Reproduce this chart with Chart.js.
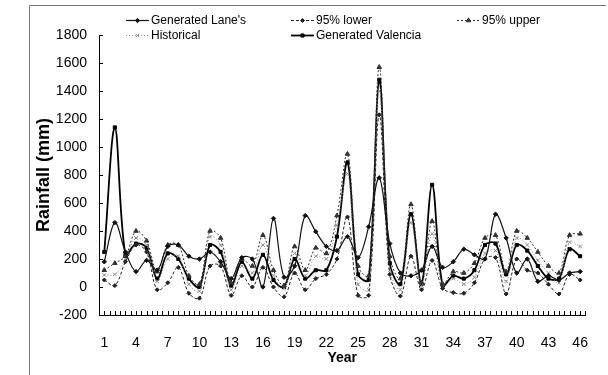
<!DOCTYPE html>
<html><head><meta charset="utf-8">
<script src="https://cdn.jsdelivr.net/npm/chart.js@4/dist/chart.umd.min.js"></script>
<style>html,body{margin:0;padding:0;background:#fff;}</style>
</head><body>
<canvas id="c" width="608" height="375" style="width:608px;height:375px;display:block"></canvas>
<script>
const years = ["1","2","3","4","5","6","7","8","9","10","11","12","13","14","15","16","17","18","19","20","21","22","23","24","25","26","27","28","29","30","31","32","33","34","35","36","37","38","39","40","41","42","43","44","45","46"];
const shownYearLabels = ["1","4","7","10","13","16","19","22","25","28","31","34","37","40","43","46"];
const yTickValues = [-200,0,200,400,600,800,1000,1200,1400,1600,1800];

const lanes     = [180,460,250,110,190,120,290,300,220,200,250,180,60,210,200,0,490,70,150,510,395,290,260,360,210,430,780,310,100,80,120,290,140,180,270,230,200,520,350,100,200,40,80,50,100,110];
const lower95   = [50,10,180,300,250,-20,30,140,-45,-80,150,150,-60,80,0,140,0,-70,100,-20,60,90,200,500,-60,-60,1230,90,-65,220,-20,190,-10,-40,-45,30,200,210,-50,200,120,100,20,-50,90,50];
const upper95   = [120,170,220,400,330,110,300,300,80,20,400,350,30,200,150,370,120,10,290,120,280,240,510,950,150,80,1570,220,60,590,30,470,20,110,100,170,350,370,110,400,350,250,150,100,370,380];
const historical= [86,90,200,350,300,40,200,220,20,-30,360,300,-20,150,100,300,80,-10,240,80,220,200,440,810,20,-20,1400,120,-20,460,10,380,0,60,20,70,240,260,40,350,300,190,100,30,320,290];
const valencia  = [250,1140,230,310,280,60,240,200,60,0,300,250,10,180,60,230,50,0,200,60,120,120,360,890,90,50,1480,170,20,520,20,730,10,80,60,120,300,310,90,300,260,150,60,60,270,220];

const FONT = '"Liberation Sans", Arial, sans-serif';

const datasets = [
  {label:"Generated Lane's", data:lanes, borderColor:'#111', backgroundColor:'#111', borderWidth:1.2, pointStyle:'rectRot', pointRadius:2.2},
  {label:"95% lower", data:lower95, borderColor:'#222', backgroundColor:'#222', borderWidth:1, borderDash:[3,2], pointStyle:'rectRot', pointRadius:2},
  {label:"95% upper", data:upper95, borderColor:'#333', backgroundColor:'#333', borderWidth:1, borderDash:[2,2], pointStyle:'triangle', pointRadius:2.6},
  {label:"Historical", data:historical, borderColor:'#8a8a8a', backgroundColor:'#8a8a8a', borderWidth:1, borderDash:[1,2], pointStyle:'crossRot', pointRadius:2.5},
  {label:"Generated Valencia", data:valencia, borderColor:'#000', backgroundColor:'#000', borderWidth:1.8, pointStyle:'rect', pointRadius:2.2}
];
datasets.forEach(d=>{ d.tension=0.35; d.fill=false; d.pointBorderWidth=1; d.pointHoverRadius=d.pointRadius; });

const legendSlots = [[126,20],[291,20],[457,20],[126,35],[291,35]];

const framePlugin = {
  id:'frame',
  beforeDraw(chart){
    const ctx=chart.ctx;
    ctx.save();
    ctx.fillStyle='#fff'; ctx.fillRect(0,0,chart.width,chart.height);
    ctx.strokeStyle='#777'; ctx.lineWidth=1;
    ctx.beginPath(); ctx.moveTo(29.5,375); ctx.lineTo(29.5,5.5); ctx.lineTo(606,5.5); ctx.stroke();
    ctx.restore();
  },
  afterDraw(chart){
    const ctx=chart.ctx, ca=chart.chartArea;
    const xs=chart.scales.x, ys=chart.scales.y;
    ctx.save();
    ctx.strokeStyle='#000'; ctx.lineWidth=1;
    ctx.beginPath();
    yTickValues.forEach(v=>{ const y=Math.round(ys.getPixelForValue(v))+0.5; ctx.moveTo(ca.left,y); ctx.lineTo(ca.left+4,y); });
    const w = xs.getPixelForValue(1)-xs.getPixelForValue(0);
    for(let i=0;i<years.length;i++){
      const c=xs.getPixelForValue(i);
      [c-w/2, c].forEach(px=>{ const x=Math.round(px)+0.5; ctx.moveTo(x,ca.bottom); ctx.lineTo(x,ca.bottom-4); });
    }
    const xe=Math.round(xs.getPixelForValue(years.length-1)+w/2)+0.5; ctx.moveTo(xe,ca.bottom); ctx.lineTo(xe,ca.bottom-4);
    ctx.stroke();
    chart.data.datasets.forEach((ds,i)=>{
      const [lx,ly]=legendSlots[i];
      ctx.save();
      ctx.strokeStyle=ds.borderColor; ctx.lineWidth=ds.borderWidth;
      ctx.setLineDash(ds.borderDash||[]);
      ctx.beginPath(); ctx.moveTo(lx,ly+0.5); ctx.lineTo(lx+23,ly+0.5); ctx.stroke();
      ctx.setLineDash([]);
      ctx.fillStyle=ds.backgroundColor; ctx.strokeStyle=ds.borderColor; ctx.lineWidth=1;
      Chart.helpers.drawPoint(ctx,{pointStyle:ds.pointStyle,radius:ds.pointRadius,borderWidth:1,rotation:0},lx+11.5,ly+0.5);
      ctx.fillStyle='#000'; ctx.font='12px '+FONT; ctx.textBaseline='middle'; ctx.textAlign='left';
      ctx.fillText(ds.label,lx+25,ly+1);
      ctx.restore();
    });
    ctx.restore();
  }
};

new Chart(document.getElementById('c'),{
  type:'line',
  data:{labels:years, datasets},
  options:{
    responsive:false, animation:false, devicePixelRatio:1,
    layout:{padding:{left:0,right:5,top:35,bottom:0}},
    plugins:{legend:{display:false},tooltip:{enabled:false}},
    scales:{
      x:{
        type:'category', offset:true,
        grid:{display:false, drawTicks:false},
        border:{display:true,color:'#000',width:1},
        ticks:{autoSkip:false,maxRotation:0,minRotation:0,padding:20,color:'#000',font:{family:FONT,size:14},
          callback:function(v,i){ const l=this.getLabelForValue(v); return shownYearLabels.includes(l)?l:''; }},
        title:{display:true,text:'Year',color:'#000',font:{family:FONT,size:14,weight:'bold'},padding:{top:0,bottom:8}},
        afterFit(s){ s.height=60; }
      },
      y:{
        min:-200,max:1800,
        grid:{display:false, drawTicks:false},
        border:{display:true,color:'#000',width:1},
        ticks:{stepSize:200,padding:12,color:'#000',font:{family:FONT,size:14},callback:v=>String(v)},
        title:{display:true,text:'Rainfall (mm)',color:'#000',font:{family:FONT,size:18,weight:'bold'},padding:{top:33,bottom:0}},
        afterFit(s){ s.width=99; }
      }
    }
  },
  plugins:[framePlugin]
});
</script>
</body></html>
